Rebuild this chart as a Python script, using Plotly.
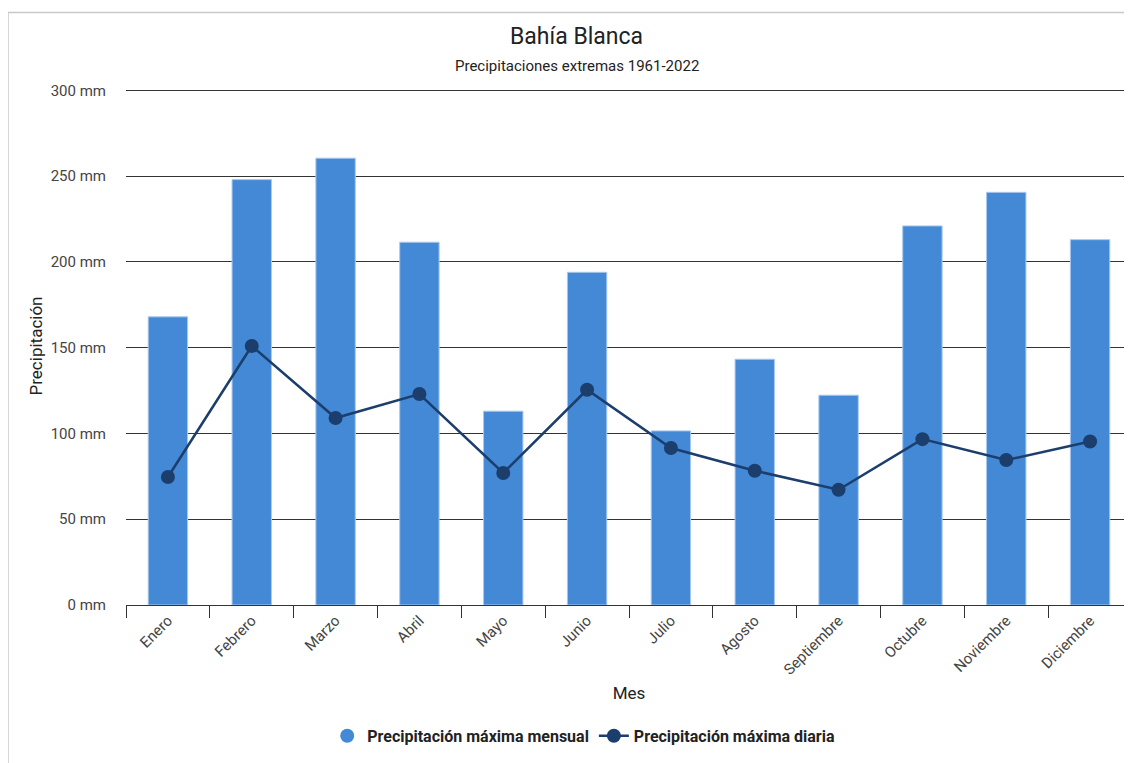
import plotly.graph_objects as go

meses = ["Enero", "Febrero", "Marzo", "Abril", "Mayo", "Junio", "Julio",
         "Agosto", "Septiembre", "Octubre", "Noviembre", "Diciembre"]
max_mensual = [168, 248, 260.5, 211.5, 113, 194, 101.5, 143.3, 122.3, 221, 240.6, 213]
max_diaria = [74.6, 151, 109, 123, 77, 125.5, 91.5, 78.3, 67.2, 96.7, 84.5, 95.3]

y_ticks = [0, 50, 100, 150, 200, 250, 300]
y_tick_labels = ["0 mm", "50 mm", "100 mm", "150 mm", "200 mm", "250 mm", "300 mm"]

titulo = "Bahía Blanca"
subtitulo = "Precipitaciones extremas 1961-2022"

BAR = "#4389d6"
LINE = "#1c3e6d"
FONT = "Roboto"

# page body has an 8px offset; plot area spans screen x 126..1132, y ~86.6..605
YMAX = 302
H = 515 * YMAX / 300.0
OFF = 8
top_screen = 605 - H


def py(y_screen):
    return (605 - y_screen) / H


fig = go.Figure()
fig.add_trace(go.Bar(
    x=meses, y=max_mensual, name="Precipitación máxima mensual",
    marker=dict(color=BAR, line=dict(color="#a9c8ee", width=1)),
    width=0.47, showlegend=False,
))
fig.add_trace(go.Scatter(
    x=meses, y=max_diaria, name="Precipitación máxima diaria",
    mode="lines+markers",
    line=dict(color=LINE, width=2.5),
    marker=dict(color=LINE, size=14),
    showlegend=False,
))
# legend entries (circle symbols as in the reference)
fig.add_trace(go.Scatter(
    x=[None], y=[None], mode="markers", name="Precipitación máxima mensual",
    marker=dict(color=BAR, size=14),
))
fig.add_trace(go.Scatter(
    x=[None], y=[None], mode="lines+markers", name="Precipitación máxima diaria",
    line=dict(color=LINE, width=2.5), marker=dict(color=LINE, size=14),
))

fig.update_layout(
    width=1132, height=763,
    margin=dict(l=126 - OFF, r=OFF, t=top_screen - OFF, b=763 - (605 - OFF),
                autoexpand=False),
    paper_bgcolor="white", plot_bgcolor="white",
    font=dict(family=FONT, color="#444444", size=15),
    showlegend=True,
    legend=dict(
        orientation="h", x=0.455, xanchor="center", y=py(736), yanchor="middle",
        font=dict(family=FONT, size=16, color="#222222", weight="bold"),
        itemwidth=30, traceorder="normal",
    ),
    annotations=[
        dict(text=titulo, xref="paper", yref="paper", x=0.4483, y=py(36),
             xanchor="center", yanchor="middle", showarrow=False,
             font=dict(family=FONT, size=23, color="#222222")),
        dict(text=subtitulo, xref="paper", yref="paper", x=0.4483, y=py(66),
             xanchor="center", yanchor="middle", showarrow=False,
             font=dict(family=FONT, size=15, color="#222222")),
    ],
    shapes=[dict(type="rect", xref="paper", yref="paper",
                 x0=-0.1173, x1=1.05, y0=py(800), y1=py(12),
                 line=dict(color="#c8c8c8", width=1.5), fillcolor="rgba(0,0,0,0)",
                 layer="below")],
)
fig.update_xaxes(
    type="category", range=[-0.5, len(meses) - 0.5],
    tickson="boundaries", ticks="outside", ticklen=12,
    tickcolor="#333333", tickwidth=1,
    showline=True, linecolor="#333333", linewidth=1,
    tickangle=-45, tickfont=dict(size=15, color="#444444"),
    title=dict(text="Mes", font=dict(size=17, color="#222222"), standoff=9),
    showgrid=False, automargin=False,
)
fig.update_yaxes(
    range=[0, YMAX], tickmode="array", tickvals=y_ticks, ticktext=y_tick_labels,
    showgrid=True, gridcolor="#333333", gridwidth=1,
    zeroline=False, showline=False,
    ticklabelstandoff=19, tickfont=dict(size=15, color="#444444"),
    title=dict(text="Precipitación", font=dict(size=17, color="#222222"), standoff=3),
    automargin=False,
)

fig.write_html("out.html")
